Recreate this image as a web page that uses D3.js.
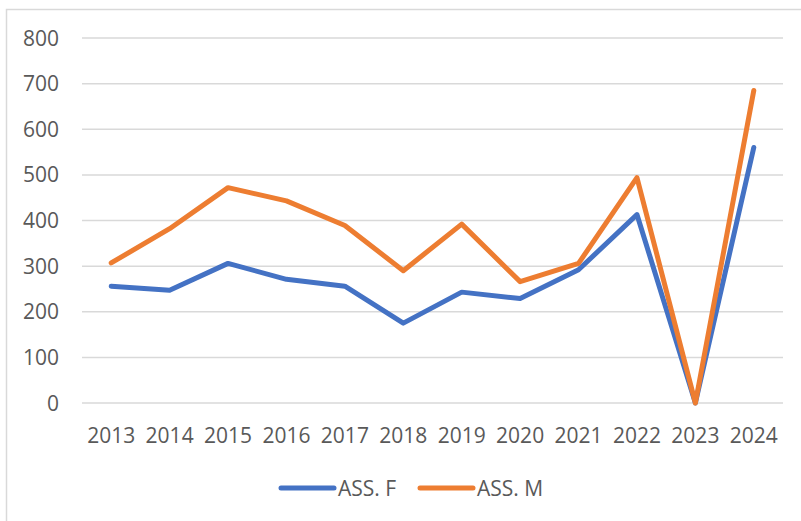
<!DOCTYPE html>
<html>
<head>
<meta charset="utf-8">
<script src="https://cdn.jsdelivr.net/npm/d3@7"></script>
<style>
  html, body { margin: 0; padding: 0; background: #fff; }
  svg { display: block; }
  text { font-family: "Open Sans", sans-serif; fill: #595959; }
</style>
</head>
<body>
<div id="chart"></div>
<script>
const width = 801;
const height = 521;

// Dati
const years = ["2013", "2014", "2015", "2016", "2017", "2018", "2019", "2020", "2021", "2022", "2023", "2024"];
const assF = [256, 247, 306, 271, 256, 175, 243, 229, 292, 413, 0, 560];
const assM = [307, 382, 472, 443, 389, 290, 392, 266, 306, 494, 0, 685];
const yTicks = [0, 100, 200, 300, 400, 500, 600, 700, 800];
const seriesNames = ["ASS. F", "ASS. M"];
const seriesColors = ["#4472C4", "#ED7D31"];

const margin = { left: 82, right: 18, top: 38, bottom: 118 };

const svg = d3.select("#chart")
    .append("svg")
    .attr("width", width)
    .attr("height", height);

// Cornice
svg.append("rect")
    .attr("x", 6.5).attr("y", 9.5)
    .attr("width", 820).attr("height", 540)
    .attr("fill", "none")
    .attr("stroke", "#d9d9d9")
    .attr("stroke-width", 1.5);

const x = d3.scaleBand()
    .domain(years)
    .range([margin.left, width - margin.right]);

const y = d3.scaleLinear()
    .domain([0, 800])
    .range([403, 38]);

// Griglia
svg.append("g")
    .selectAll("line")
    .data(yTicks)
    .join("line")
    .attr("x1", margin.left)
    .attr("x2", width - margin.right)
    .attr("y1", d => y(d))
    .attr("y2", d => y(d))
    .attr("stroke", "#d9d9d9")
    .attr("stroke-width", 1.5);

// Etichette asse Y
svg.append("g")
    .selectAll("text")
    .data(yTicks)
    .join("text")
    .attr("x", 59)
    .attr("y", d => y(d))
    .attr("dy", "0.36em")
    .attr("text-anchor", "end")
    .style("font-size", "21px")
    .text(d => d);

// Etichette asse X
svg.append("g")
    .selectAll("text")
    .data(years)
    .join("text")
    .attr("x", d => x(d) + x.bandwidth() / 2)
    .attr("y", 443)
    .attr("text-anchor", "middle")
    .style("font-size", "21px")
    .text(d => d);

// Linee
const line = d3.line()
    .x((d, i) => x(years[i]) + x.bandwidth() / 2)
    .y(d => y(d));

[assF, assM].forEach((values, i) => {
    svg.append("path")
        .datum(values)
        .attr("d", line)
        .attr("fill", "none")
        .attr("stroke", seriesColors[i])
        .attr("stroke-width", 5)
        .attr("stroke-linejoin", "round")
        .attr("stroke-linecap", "round");
});

// Legenda
const legendX = [281, 420];
const legend = svg.append("g")
    .selectAll("g")
    .data(seriesNames)
    .join("g")
    .attr("transform", (d, i) => `translate(${legendX[i]},488)`);

legend.append("line")
    .attr("x1", 0).attr("x2", 53)
    .attr("stroke", (d, i) => seriesColors[i])
    .attr("stroke-width", 5)
    .attr("stroke-linecap", "round");

legend.append("text")
    .attr("x", 57)
    .attr("dy", "0.36em")
    .style("font-size", "21px")
    .text(d => d);
</script>
</body>
</html>
